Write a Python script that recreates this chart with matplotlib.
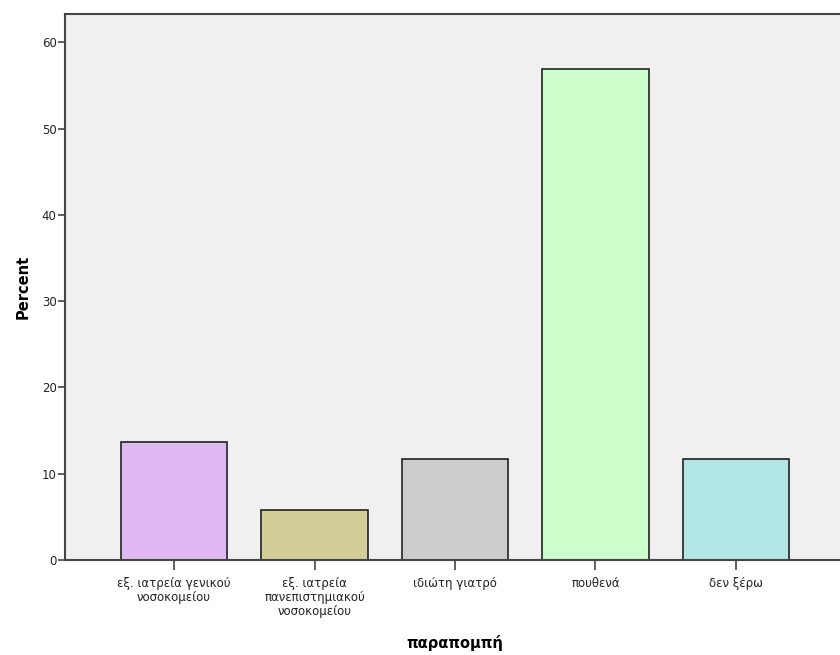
import matplotlib.pyplot as plt

categories = ['εξ. ιατρεία γενικού\nνοσοκομείου',
              'εξ. ιατρεία\nπανεπιστημιακού\nνοσοκομείου',
              'ιδιώτη γιατρό',
              'πουθενά',
              'δεν ξέρω']
percent = [13.7, 5.8, 11.7, 56.9, 11.7]
colors = ['#E0B8F2', '#D3CE97', '#CCCCCC', '#CCFFCC', '#B3E6E6']

plt.rcParams['font.family'] = ['DejaVu Sans']

fig = plt.figure(figsize=(8.4, 6.55), dpi=100)
ax = fig.add_axes([65 / 840, 95 / 655, 780 / 840, 546 / 655])
ax.set_facecolor('#F0F0F0')

x = list(range(len(categories)))
ax.bar(x, percent, width=0.755, color=colors, edgecolor='#222222', linewidth=1.2, zorder=2)

ax.set_xlim(-0.776, 4.776)
ax.set_ylim(0, 63.3)
ax.set_yticks([0, 10, 20, 30, 40, 50, 60])
ax.set_xticks(x)
ax.set_xticklabels(categories, fontsize=8.5, linespacing=1.1, color='#222222')
ax.tick_params(axis='y', labelsize=8.5, length=5, width=1.2, color='#444444', labelcolor='#222222', pad=1)
ax.tick_params(axis='x', length=7, width=1.2, color='#444444', pad=5)

for s in ax.spines.values():
    s.set_color('#444444')
    s.set_linewidth(1.5)

ax.set_ylabel('Percent', fontsize=10.5, fontweight='bold', labelpad=8)
ax.set_xlabel('παραπομπή', fontsize=10.5, fontweight='bold')
ax.xaxis.set_label_coords(0.5, -83 / 546)
ax.xaxis.label.set_va('center')

fig.savefig('out.png', dpi=100)
